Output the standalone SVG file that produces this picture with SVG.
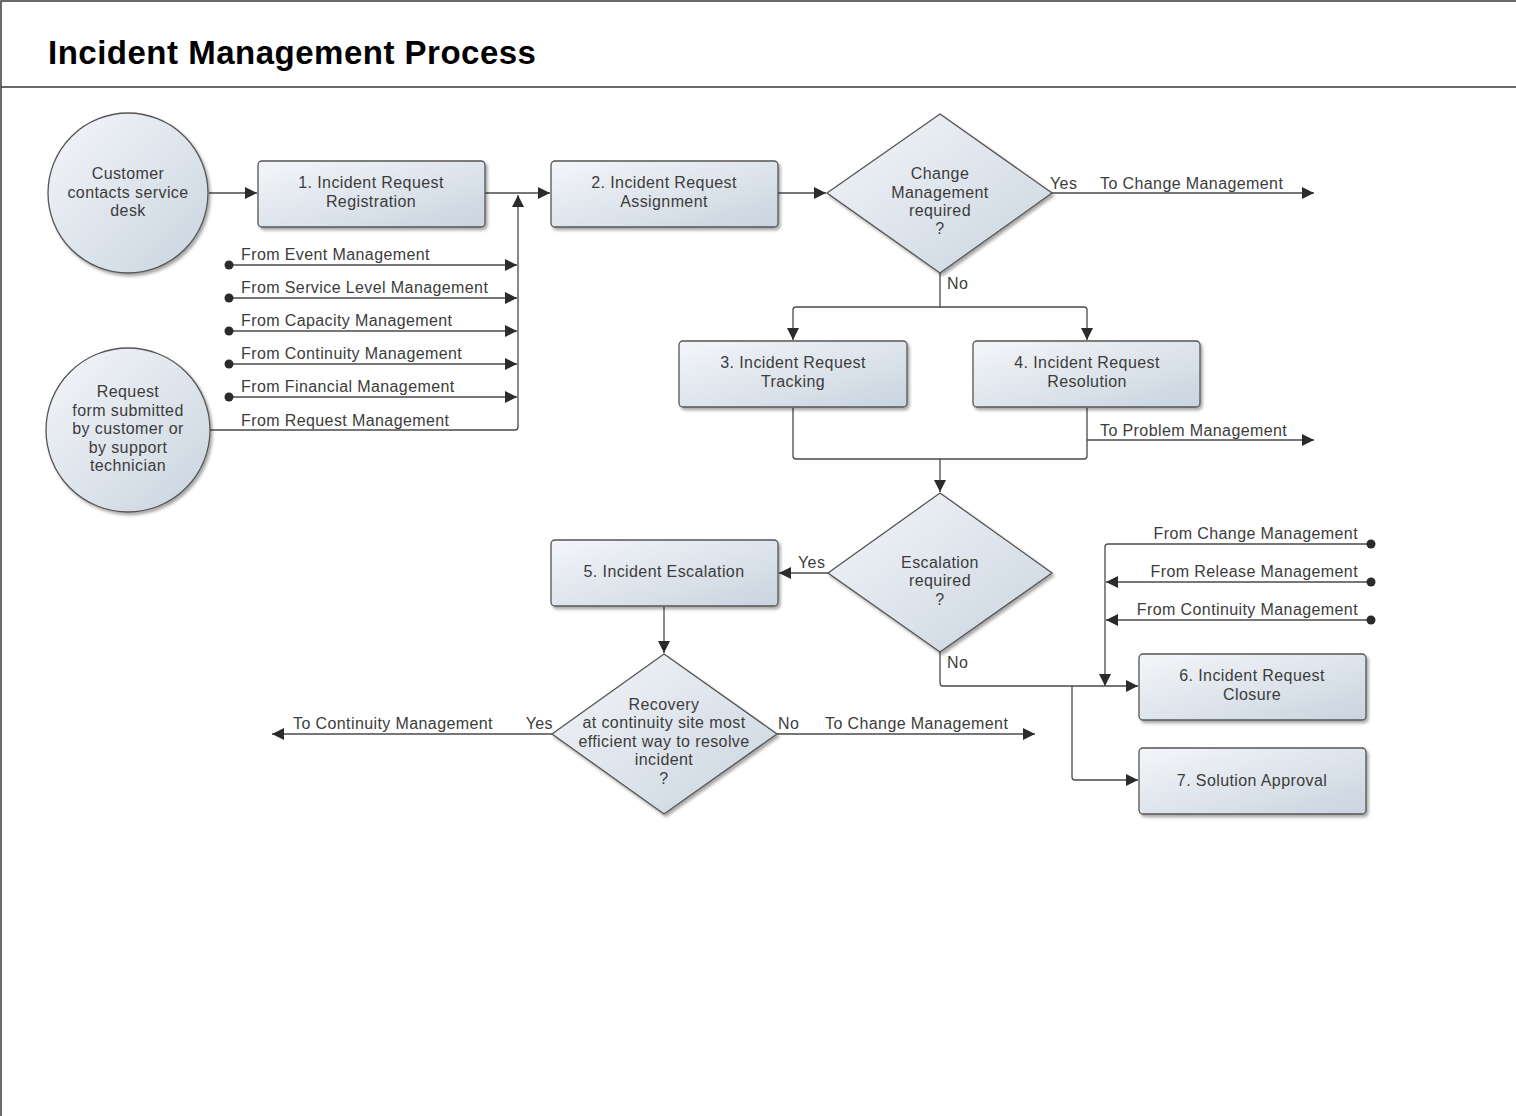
<svg xmlns="http://www.w3.org/2000/svg" width="1516" height="1116" viewBox="0 0 1516 1116">
<style>
  .frame { fill: none; stroke: #3a3a3a; stroke-width: 1.5; }
  .title { font-family: "Liberation Sans", Arial, sans-serif; font-weight: bold; font-size: 33px; fill: #000; letter-spacing: 0.5px; }
  .t { font-family: "Liberation Sans", Arial, sans-serif; font-size: 16px; fill: #3c3c3c; letter-spacing: 0.4px; }
  .c { text-anchor: middle; }
  .e { text-anchor: end; }
  .shape { fill: url(#g); stroke: #555; stroke-width: 1.3; filter: url(#sh); }
  .ln { fill: none; stroke: #4a4a4a; stroke-width: 1.3; }
  .arr { marker-end: url(#ah); }
  .dot { marker-start: url(#dt); }
</style>
<defs>
  <linearGradient id="g" x1="0" y1="0" x2="1" y2="1">
    <stop offset="0" stop-color="#f4f6f9"/>
    <stop offset="1" stop-color="#c9d4df"/>
  </linearGradient>
  <filter id="sh" x="-10%" y="-10%" width="125%" height="130%">
    <feDropShadow dx="2" dy="2.5" stdDeviation="1.5" flood-color="#000" flood-opacity="0.35"/>
  </filter>
  <marker id="ah" markerUnits="userSpaceOnUse" markerWidth="13" markerHeight="12" refX="12" refY="6" orient="auto">
    <path d="M0,0 L12,6 L0,12 z" fill="#2b2b2b"/>
  </marker>
  <marker id="dt" markerUnits="userSpaceOnUse" markerWidth="10" markerHeight="10" refX="5" refY="5" orient="auto">
    <circle cx="5" cy="5" r="4.5" fill="#2b2b2b"/>
  </marker>
</defs>

<rect width="1516" height="1116" fill="#fff"/>
<path class="frame" d="M1,1116 V1 H1516 M1,87 H1516"/>
<text class="title" x="48" y="64">Incident Management Process</text>

<g id="connectors">
  <path class="ln arr" d="M209,193 H257"/>
  <path class="ln arr" d="M485,193 H550"/>
  <path class="ln arr dot" d="M229,265 H517"/>
  <path class="ln arr dot" d="M229,298 H517"/>
  <path class="ln arr dot" d="M229,331 H517"/>
  <path class="ln arr dot" d="M229,364 H517"/>
  <path class="ln arr dot" d="M229,397 H517"/>
  <path class="ln arr" d="M210,430 H515 Q518,430 518,427 V195"/>
  <path class="ln arr" d="M778,193 H826"/>
  <path class="ln arr" d="M1052,193 H1314"/>
  <path class="ln arr" d="M940,273 V307 H796 Q793,307 793,310 V340"/>
  <path class="ln arr" d="M940,307 H1084 Q1087,307 1087,310 V340"/>
  <path class="ln" d="M793,408 V456 Q793,459 796,459 H1084 Q1087,459 1087,456 V408"/>
  <path class="ln arr" d="M940,459 V492"/>
  <path class="ln arr" d="M1087,440 H1314"/>
  <path class="ln arr" d="M828,573 H779"/>
  <path class="ln arr" d="M664,607 V653"/>
  <path class="ln arr" d="M552,734 H272"/>
  <path class="ln arr" d="M777,734 H1035"/>
  <path class="ln arr" d="M940,652 V683 Q940,686 943,686 H1138"/>
  <path class="ln arr" d="M1072,686 V777 Q1072,780 1075,780 H1138"/>
  <path class="ln arr dot" d="M1371,544 H1108 Q1105,544 1105,547 V686"/>
  <path class="ln arr dot" d="M1371,582 H1106"/>
  <path class="ln arr dot" d="M1371,620 H1106"/>

  <text class="t" x="241" y="260">From Event Management</text>
  <text class="t" x="241" y="293">From Service Level Management</text>
  <text class="t" x="241" y="326">From Capacity Management</text>
  <text class="t" x="241" y="359">From Continuity Management</text>
  <text class="t" x="241" y="392">From Financial Management</text>
  <text class="t" x="241" y="426">From Request Management</text>
  <text class="t" x="1050" y="189">Yes</text>
  <text class="t" x="1100" y="189">To Change Management</text>
  <text class="t" x="947" y="289">No</text>
  <text class="t" x="1100" y="436">To Problem Management</text>
  <text class="t" x="798" y="568">Yes</text>
  <text class="t" x="947" y="668">No</text>
  <text class="t e" x="553" y="729">Yes</text>
  <text class="t" x="293" y="729">To Continuity Management</text>
  <text class="t" x="778" y="729">No</text>
  <text class="t" x="825" y="729">To Change Management</text>
  <text class="t e" x="1358" y="539">From Change Management</text>
  <text class="t e" x="1358" y="577">From Release Management</text>
  <text class="t e" x="1358" y="615">From Continuity Management</text>
</g>

<g id="start-customer">
  <circle class="shape" cx="128" cy="193" r="80"/>
  <text class="t c" x="128" y="179">Customer</text>
  <text class="t c" x="128" y="198">contacts service</text>
  <text class="t c" x="128" y="216">desk</text>
</g>

<g id="start-request-form">
  <circle class="shape" cx="128" cy="430" r="82"/>
  <text class="t c" x="128" y="397">Request</text>
  <text class="t c" x="128" y="416">form submitted</text>
  <text class="t c" x="128" y="434">by customer or</text>
  <text class="t c" x="128" y="453">by support</text>
  <text class="t c" x="128" y="471">technician</text>
</g>

<g id="step1-registration">
  <rect class="shape" x="258" y="161" width="227" height="66" rx="4"/>
  <text class="t c" x="371" y="188">1. Incident Request</text>
  <text class="t c" x="371" y="207">Registration</text>
</g>

<g id="step2-assignment">
  <rect class="shape" x="551" y="161" width="227" height="66" rx="4"/>
  <text class="t c" x="664" y="188">2. Incident Request</text>
  <text class="t c" x="664" y="207">Assignment</text>
</g>

<g id="decision-change">
  <polygon class="shape" points="940,114 1052,193 940,273 827,193"/>
  <text class="t c" x="940" y="179">Change</text>
  <text class="t c" x="940" y="198">Management</text>
  <text class="t c" x="940" y="216">required</text>
  <text class="t c" x="940" y="234">?</text>
</g>

<g id="step3-tracking">
  <rect class="shape" x="679" y="341" width="228" height="66" rx="4"/>
  <text class="t c" x="793" y="368">3. Incident Request</text>
  <text class="t c" x="793" y="387">Tracking</text>
</g>

<g id="step4-resolution">
  <rect class="shape" x="973" y="341" width="227" height="66" rx="4"/>
  <text class="t c" x="1087" y="368">4. Incident Request</text>
  <text class="t c" x="1087" y="387">Resolution</text>
</g>

<g id="decision-escalation">
  <polygon class="shape" points="940,493 1052,573 940,652 828,573"/>
  <text class="t c" x="940" y="568">Escalation</text>
  <text class="t c" x="940" y="586">required</text>
  <text class="t c" x="940" y="605">?</text>
</g>

<g id="step5-escalation">
  <rect class="shape" x="551" y="540" width="227" height="66" rx="4"/>
  <text class="t c" x="664" y="577">5. Incident Escalation</text>
</g>

<g id="decision-recovery">
  <polygon class="shape" points="664,654 777,734 664,814 552,734"/>
  <text class="t c" x="664" y="710">Recovery</text>
  <text class="t c" x="664" y="728">at continuity site most</text>
  <text class="t c" x="664" y="747">efficient way to resolve</text>
  <text class="t c" x="664" y="765">incident</text>
  <text class="t c" x="664" y="784">?</text>
</g>

<g id="step6-closure">
  <rect class="shape" x="1139" y="654" width="227" height="66" rx="4"/>
  <text class="t c" x="1252" y="681">6. Incident Request</text>
  <text class="t c" x="1252" y="700">Closure</text>
</g>

<g id="step7-approval">
  <rect class="shape" x="1139" y="748" width="227" height="66" rx="4"/>
  <text class="t c" x="1252" y="786">7. Solution Approval</text>
</g>
</svg>
